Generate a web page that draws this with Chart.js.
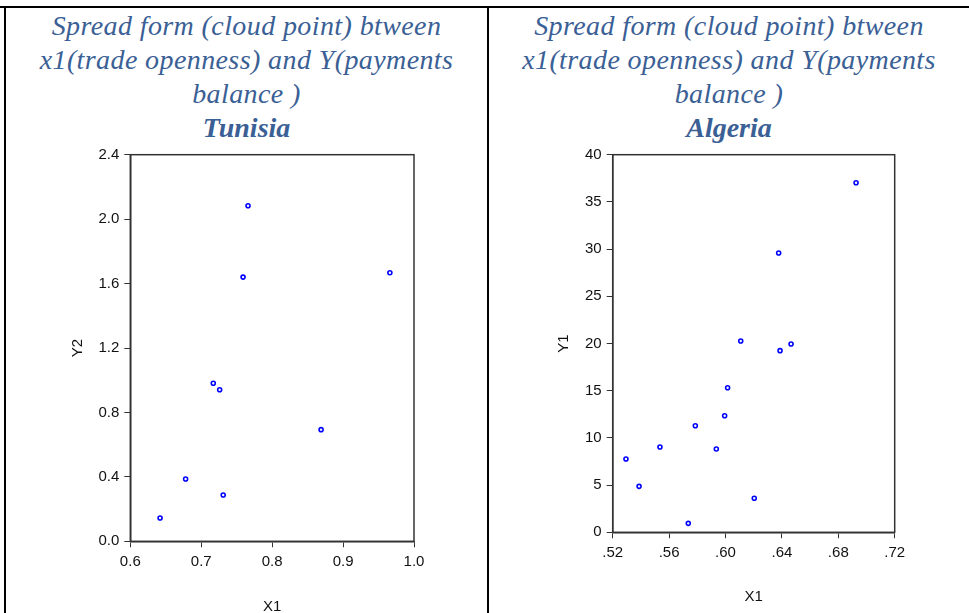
<!DOCTYPE html>
<html>
<head>
<meta charset="utf-8">
<script src="https://cdn.jsdelivr.net/npm/chart.js@4"></script>
<style>
  html, body { margin: 0; padding: 0; background: #fff; overflow: hidden; width: 969px; height: 613px; }
  .line { position: absolute; background: #000; }
  .ttl {
    position: absolute; top: 9px; text-align: center; color: #3a6095;
    font-family: "Liberation Serif", "Times New Roman", serif; font-style: italic;
    font-size: 28px; line-height: 34px; letter-spacing: 0.4px;
  }
  .ttl b { font-weight: bold; letter-spacing: 0; }
  .box { position: absolute; top: 140px; height: 480px; }
</style>
</head>
<body>
<div class="line" style="left:0;top:6px;width:969px;height:2px"></div>
<div class="line" style="left:4px;top:6px;width:2px;height:607px"></div>
<div class="line" style="left:487px;top:6px;width:2px;height:607px"></div>

<div class="ttl" style="left:6px;width:481px">Spread form (cloud point) btween<br>x1(trade openness) and Y(payments<br>balance )<br><b>Tunisia</b></div>
<div class="ttl" style="left:489px;width:480px">Spread form (cloud point) btween<br>x1(trade openness) and Y(payments<br>balance )<br><b>Algeria</b></div>

<div class="box" style="left:6px;width:481px"><canvas id="tun"></canvas></div>
<div class="box" style="left:491px;width:478px"><canvas id="alg"></canvas></div>

<script>
// Tunisia: X1 (trade openness) vs Y2 (payments balance)
const tunX1 = [0.766, 0.759, 0.966, 0.717, 0.726, 0.869, 0.678, 0.731, 0.642];
const tunY2 = [2.083, 1.640, 1.667, 0.981, 0.941, 0.693, 0.387, 0.287, 0.145];

// Algeria: X1 (trade openness) vs Y1 (payments balance)
const algX1 = [0.6926, 0.6377, 0.6108, 0.6387, 0.6465, 0.6015, 0.5994, 0.5786, 0.5535, 0.5935, 0.5294, 0.5387, 0.6204, 0.5736];
const algY1 = [37.03, 29.59, 20.26, 19.24, 19.95, 15.32, 12.35, 11.29, 9.04, 8.82, 7.76, 4.87, 3.60, 0.95];

const tickFont = { family: "'Liberation Sans Narrow', 'Arial Narrow', 'Liberation Sans', Arial, sans-serif", size: 15 };
const axisColor = '#333';

const frame = {
  id: 'frame',
  afterDraw(chart) {
    const a = chart.chartArea, ctx = chart.ctx;
    ctx.save();
    ctx.strokeStyle = axisColor;
    ctx.lineWidth = 1.5;
    ctx.strokeRect(a.left, a.top, a.right - a.left, a.bottom - a.top);
    ctx.restore();
  }
};

const makeScatter = (canvas, xs, ys, o) => {
  const pts = xs.map((x, i) => ({ x: x, y: ys[i] }));
  return new Chart(canvas, {
    type: 'scatter',
    data: {
      datasets: [{
        data: pts,
        pointStyle: 'circle',
        pointRadius: 2,
        pointBorderWidth: 1.6,
        borderColor: '#0000ff',
        backgroundColor: '#ffffff',
      }],
    },
    options: {
      responsive: true,
      maintainAspectRatio: false,
      animation: false,
      layout: { padding: { left: 0, right: o.right, top: 14.7, bottom: 0 } },
      plugins: { legend: { display: false }, tooltip: { enabled: false } },
      scales: {
        x: {
          min: o.xMin, max: o.xMax,
          afterFit: (s) => { s.height = o.xH; },
          ticks: { stepSize: o.xStep, color: '#111', font: tickFont, padding: 6, maxRotation: 0, callback: o.xFmt },
          grid: { drawOnChartArea: false, tickLength: 6, color: axisColor, lineWidth: 1 },
          border: { display: true, color: axisColor, width: 1.5 },
          title: { display: true, text: 'X1', color: '#111', font: tickFont, padding: { top: 0, bottom: o.xTitlePad } },
        },
        y: {
          min: o.yMin, max: o.yMax,
          afterFit: (s) => { s.width = o.yW; },
          ticks: { stepSize: o.yStep, color: '#111', font: tickFont, padding: 5, callback: o.yFmt },
          grid: { drawOnChartArea: false, tickLength: 6, color: axisColor, lineWidth: 1 },
          border: { display: true, color: axisColor, width: 1.5 },
          title: { display: true, text: o.yTitle, color: '#111', font: tickFont, padding: { top: o.yTitlePad, bottom: 0 } },
        },
      },
    },
    plugins: [frame],
  });
};

makeScatter(document.getElementById('tun'), tunX1, tunY2, {
  right: 73, xMin: 0.6, xMax: 1.0, xStep: 0.1, yMin: 0, yMax: 2.4, yStep: 0.4,
  xH: 78.7, yW: 124.3, xTitlePad: 4, yTitlePad: 63, yTitle: 'Y2',
  xFmt: (v) => Number(v).toFixed(1),
  yFmt: (v) => Number(v).toFixed(1),
});

makeScatter(document.getElementById('alg'), algX1, algY1, {
  right: 74.3, xMin: 0.52, xMax: 0.72, xStep: 0.04, yMin: 0, yMax: 40, yStep: 5,
  xH: 87.7, yW: 121.7, xTitlePad: 14, yTitlePad: 64, yTitle: 'Y1',
  xFmt: (v) => Number(v).toFixed(2).replace(/^0/, ''),
  yFmt: (v) => String(Math.round(v)),
});
</script>
</body>
</html>
